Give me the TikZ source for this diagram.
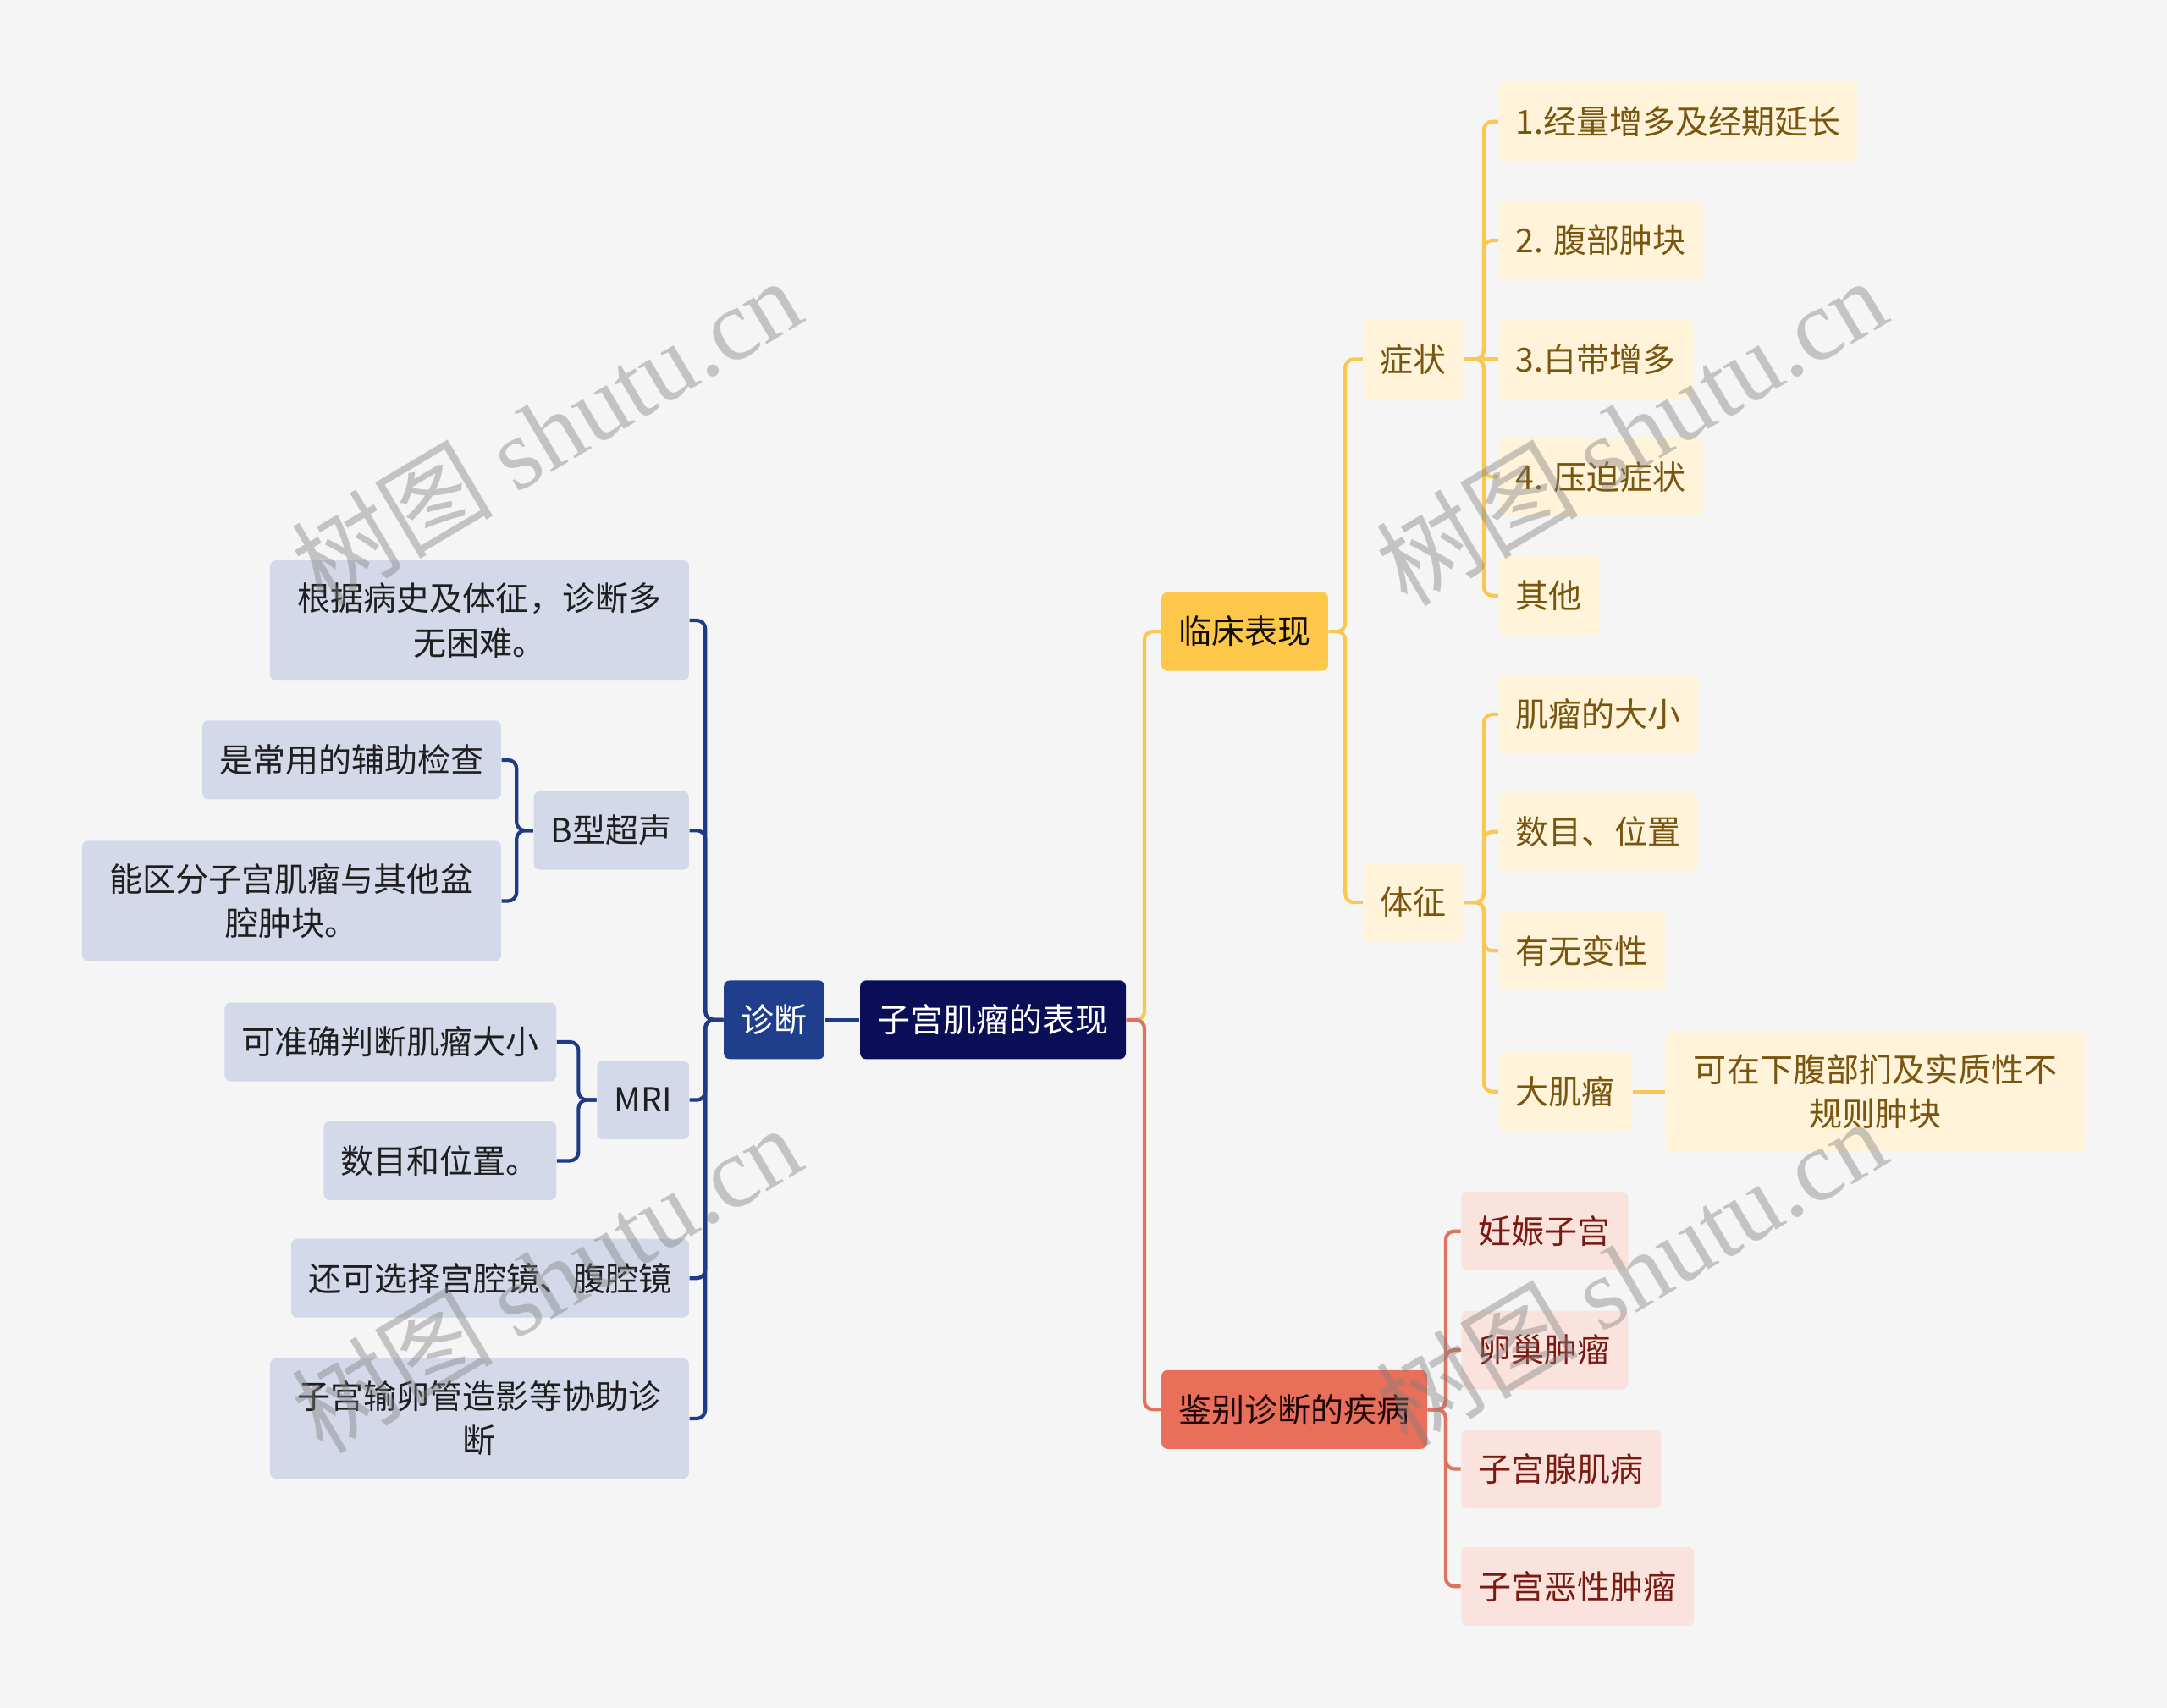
\documentclass[tikz,border=0pt]{standalone}
\usepackage{fontspec}
\setmainfont{Noto Sans CJK SC}
\newfontfamily\wmcjk{Noto Sans CJK SC}
\newfontfamily\wmlatin{Liberation Serif}
\usepackage{tikz}
\usepackage{xcolor}

\definecolor{bgcol}{HTML}{F5F5F5}
\definecolor{rootnavy}{HTML}{0A0E57}
\definecolor{diagblue}{HTML}{1F3F8C}
\definecolor{bluelight}{HTML}{D4D9E9}
\definecolor{blueline}{HTML}{1F3A86}
\definecolor{yelhead}{HTML}{FDC74A}
\definecolor{yelline}{HTML}{F8C853}
\definecolor{yellight}{HTML}{FFF3D9}
\definecolor{yeltext}{HTML}{7A5510}
\definecolor{redhead}{HTML}{E8705A}
\definecolor{redline}{HTML}{E07260}
\definecolor{redlight}{HTML}{FBE3DD}
\definecolor{redtext}{HTML}{7B1A12}

\begin{document}
\begin{tikzpicture}
	[x=0.016327cm, y=-0.016327cm,
	font=\fontsize{11.1}{14.9}\selectfont,
	box/.style = {
		rounded corners=0.07cm, inner xsep=0.204cm, inner ysep=0cm,
		minimum height=0.93cm
	},
	wrapbox/.style = {
		align=center, minimum width=4.95cm, minimum height=1.42cm
	},
	rootbox/.style = {box, fill=rootnavy, text=white},
	bluehead/.style = {box, fill=diagblue, text=white},
	bluebox/.style = {box, fill=bluelight, text=black!88},
	yelhead/.style = {box, fill=yelhead, text=black!85!yeltext},
	yelbox/.style = {box, fill=yellight, text=yeltext},
	redhead/.style = {box, fill=redhead, text=black!75!redtext},
	redbox/.style = {box, fill=redlight, text=redtext},
	wire/.style = {line width=1.2pt, rounded corners=0.1cm},
	bwire/.style = {wire, draw=blueline},
	ywire/.style = {wire, draw=yelline},
	rwire/.style = {wire, draw=redline},
	wmark/.style = {rotate=30.7, text=black!50, opacity=0.42,
		font=\fontsize{34}{34}\selectfont}
	]
	
	\fill[bgcol] (0,0) rectangle (1568,1236);
	
	%Draw nodes
	\node[rootbox] at (718.5,738) (root) {子宫肌瘤的表现};
	\node[bluehead, anchor=east] at (597,738) (diag) {诊断};
	
	\node[bluebox, wrapbox, anchor=east] at (499,449) (hist) {根据病史及体征，诊断多\\无困难。};
	\node[bluebox, anchor=east] at (499,601) (bus) {B型超声};
	\node[bluebox, anchor=east] at (363,550) (bus1) {是常用的辅助检查};
	\node[bluebox, wrapbox, anchor=east] at (363,652) (bus2) {能区分子宫肌瘤与其他盆\\腔肿块。};
	\node[bluebox, anchor=east] at (499,796) (mri) {MRI};
	\node[bluebox, anchor=east] at (403,754) (mri1) {可准确判断肌瘤大小};
	\node[bluebox, anchor=east] at (403,840) (mri2) {数目和位置。};
	\node[bluebox, anchor=east] at (499,925) (scope) {还可选择宫腔镜、腹腔镜};
	\node[bluebox, wrapbox, anchor=east] at (499,1026.5) (hsg) {子宫输卵管造影等协助诊\\断};
	
	\node[yelhead, anchor=west] at (840,457) (clin) {临床表现};
	\node[yelbox, anchor=west] at (986,260) (sym) {症状};
	\node[yelbox, anchor=west] at (986,653) (sign) {体征};
	\node[yelbox, anchor=west] at (1084,88) (sym1) {1.经量增多及经期延长};
	\node[yelbox, anchor=west] at (1084,174) (sym2) {2. 腹部肿块};
	\node[yelbox, anchor=west] at (1084,260) (sym3) {3.白带增多};
	\node[yelbox, anchor=west] at (1084,345) (sym4) {4. 压迫症状};
	\node[yelbox, anchor=west] at (1084,431) (sym5) {其他};
	\node[yelbox, anchor=west] at (1084,517) (sign1) {肌瘤的大小};
	\node[yelbox, anchor=west] at (1084,602) (sign2) {数目、位置};
	\node[yelbox, anchor=west] at (1084,688) (sign3) {有无变性};
	\node[yelbox, anchor=west] at (1084,790) (sign4) {大肌瘤};
	\node[yelbox, wrapbox, anchor=west] at (1205,790) (big) {可在下腹部扪及实质性不\\规则肿块};
	
	\node[redhead, anchor=west] at (840,1020) (diff) {鉴别诊断的疾病};
	\node[redbox, anchor=west] at (1057,891) (diff1) {妊娠子宫};
	\node[redbox, anchor=west] at (1057,977) (diff2) {卵巢肿瘤};
	\node[redbox, anchor=west] at (1057,1063) (diff3) {子宫腺肌病};
	\node[redbox, anchor=west] at (1057,1148) (diff4) {子宫恶性肿瘤};
	
	%Draw wires
	\draw[bwire] (root.west) -- (diag.east);
	\foreach \kid in {hist,bus,mri,scope,hsg}
		\draw[bwire] (diag.west) -- ++(-13,0) |- (\kid.east);
	\foreach \kid in {bus1,bus2}
		\draw[bwire] (bus.west) -- ++(-12,0) |- (\kid.east);
	\foreach \kid in {mri1,mri2}
		\draw[bwire] (mri.west) -- ++(-13,0) |- (\kid.east);
	
	\draw[ywire] (root.east) -- ++(13,0) |- (clin.west);
	\foreach \kid in {sym,sign}
		\draw[ywire] (clin.east) -- ++(12,0) |- (\kid.west);
	\foreach \kid in {sym1,sym2,sym4,sym5}
		\draw[ywire] (sym.east) -- ++(14,0) |- (\kid.west);
	\draw[ywire] (sym.east) -- (sym3.west);
	\foreach \kid in {sign1,sign2,sign3,sign4}
		\draw[ywire] (sign.east) -- ++(14,0) |- (\kid.west);
	\draw[ywire] (sign4.east) -- (big.west);
	
	\draw[rwire] (root.east) -- ++(13,0) |- (diff.west);
	\foreach \kid in {diff1,diff2,diff3,diff4}
		\draw[rwire] (diff.east) -- ++(13,0) |- (\kid.west);
	
	%watermarks on top
	\node[wmark] at (395,312) (wm1) {\wmcjk 树图 \wmlatin shutu.cn};
	\node[wmark] at (1180,312) (wm2) {\wmcjk 树图 \wmlatin shutu.cn};
	\node[wmark] at (395,925) (wm3) {\wmcjk 树图 \wmlatin shutu.cn};
	\node[wmark] at (1180,920) (wm4) {\wmcjk 树图 \wmlatin shutu.cn};
	
\end{tikzpicture}
\end{document}
